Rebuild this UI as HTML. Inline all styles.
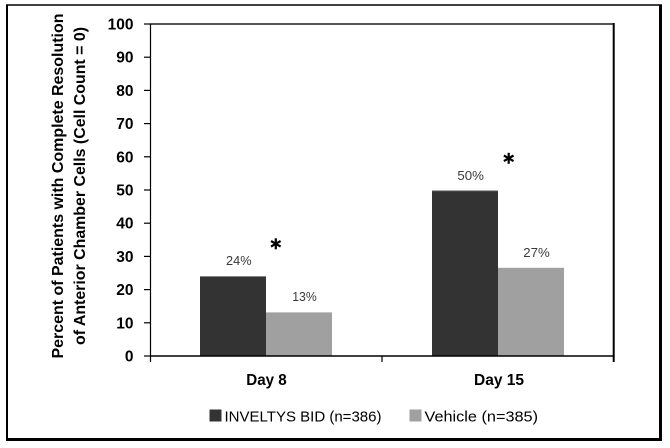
<!DOCTYPE html>
<html>
<head>
<meta charset="utf-8">
<style>
  html, body { margin: 0; padding: 0; background: #ffffff; }
  body { width: 670px; height: 448px; overflow: hidden; }
  svg { display: block; }
  text { font-family: "Liberation Sans", Arial, sans-serif; }
</style>
</head>
<body>
<svg width="670" height="448" viewBox="0 0 670 448" xmlns="http://www.w3.org/2000/svg">
  <rect x="0" y="0" width="670" height="448" fill="#ffffff"/>

  <!-- outer border -->
  <line x1="6" y1="5" x2="662" y2="5" stroke="#000" stroke-width="1.6"/>
  <line x1="7" y1="4.5" x2="7" y2="441" stroke="#000" stroke-width="2"/>
  <line x1="660.5" y1="4.5" x2="660.5" y2="441" stroke="#000" stroke-width="3"/>
  <line x1="6" y1="439.5" x2="662" y2="439.5" stroke="#000" stroke-width="3"/>

  <!-- y-axis title -->
  <text transform="translate(63,186) rotate(-90)" text-anchor="middle" font-size="16" font-weight="bold" fill="#000" textLength="345" lengthAdjust="spacingAndGlyphs">Percent of Patients with Complete Resolution</text>
  <text transform="translate(85,186) rotate(-90)" text-anchor="middle" font-size="16" font-weight="bold" fill="#000" textLength="318" lengthAdjust="spacingAndGlyphs">of Anterior Chamber Cells (Cell Count = 0)</text>

  <!-- y tick labels -->
  <g font-size="15.5" font-weight="bold" fill="#000" text-anchor="end">
    <text x="133.5" y="29.5">100</text>
    <text x="133.5" y="62.7">90</text>
    <text x="133.5" y="95.9">80</text>
    <text x="133.5" y="129.1">70</text>
    <text x="133.5" y="162.3">60</text>
    <text x="133.5" y="195.5">50</text>
    <text x="133.5" y="228.7">40</text>
    <text x="133.5" y="261.9">30</text>
    <text x="133.5" y="295.1">20</text>
    <text x="133.5" y="328.3">10</text>
    <text x="133.5" y="361.5">0</text>
  </g>

  <!-- y ticks -->
  <g stroke="#000" stroke-width="1.2">
    <line x1="144" y1="24" x2="150" y2="24"/>
    <line x1="144" y1="57.2" x2="150" y2="57.2"/>
    <line x1="144" y1="90.4" x2="150" y2="90.4"/>
    <line x1="144" y1="123.6" x2="150" y2="123.6"/>
    <line x1="144" y1="156.8" x2="150" y2="156.8"/>
    <line x1="144" y1="190" x2="150" y2="190"/>
    <line x1="144" y1="223.2" x2="150" y2="223.2"/>
    <line x1="144" y1="256.4" x2="150" y2="256.4"/>
    <line x1="144" y1="289.6" x2="150" y2="289.6"/>
    <line x1="144" y1="322.8" x2="150" y2="322.8"/>
    <line x1="144" y1="356" x2="150" y2="356"/>
  </g>

  <!-- bars -->
  <rect x="200" y="276.3" width="66" height="79.7" fill="#333333"/>
  <rect x="266" y="312.4" width="66" height="43.6" fill="#a0a0a0"/>
  <rect x="432" y="190.5" width="66" height="165.5" fill="#333333"/>
  <rect x="498" y="267.8" width="66" height="88.2" fill="#a0a0a0"/>
  <!-- subtle top edges -->
  <line x1="200" y1="276.6" x2="266" y2="276.6" stroke="#777" stroke-width="0.8"/>
  <line x1="432" y1="190.8" x2="498" y2="190.8" stroke="#777" stroke-width="0.8"/>

  <!-- plot frame -->
  <line x1="150" y1="24" x2="614" y2="24" stroke="#555" stroke-width="2"/>
  <line x1="150.5" y1="24" x2="150.5" y2="362" stroke="#000" stroke-width="1.2"/>
  <line x1="613.7" y1="23" x2="613.7" y2="362" stroke="#000" stroke-width="2"/>
  <line x1="150" y1="356" x2="614" y2="356" stroke="#000" stroke-width="1.5"/>
  <line x1="382" y1="356" x2="382" y2="362" stroke="#000" stroke-width="1.2"/>

  <!-- data labels -->
  <g font-size="13" fill="#3a3a3a" text-anchor="middle">
    <text x="238.8" y="265" textLength="25.5" lengthAdjust="spacingAndGlyphs">24%</text>
    <text x="304.5" y="301" textLength="24.5" lengthAdjust="spacingAndGlyphs">13%</text>
    <text x="470.7" y="180" textLength="26.5" lengthAdjust="spacingAndGlyphs">50%</text>
    <text x="536.5" y="257" textLength="26.5" lengthAdjust="spacingAndGlyphs">27%</text>
  </g>

  <!-- asterisks -->
  <g stroke="#000" stroke-width="2.2" stroke-linecap="butt">
    <line x1="275.8" y1="238.3" x2="275.8" y2="249.3"/>
    <line x1="271" y1="241" x2="280.6" y2="246.6"/>
    <line x1="271" y1="246.6" x2="280.6" y2="241"/>
    <line x1="508.7" y1="152.8" x2="508.7" y2="163.8"/>
    <line x1="503.9" y1="155.5" x2="513.5" y2="161.1"/>
    <line x1="503.9" y1="161.1" x2="513.5" y2="155.5"/>
  </g>

  <!-- category labels -->
  <g font-size="16" font-weight="bold" fill="#000" text-anchor="middle">
    <text x="266.5" y="385" textLength="40.5" lengthAdjust="spacingAndGlyphs">Day 8</text>
    <text x="499" y="385" textLength="50" lengthAdjust="spacingAndGlyphs">Day 15</text>
  </g>

  <!-- legend -->
  <rect x="209.5" y="409.5" width="12" height="12" fill="#333333"/>
  <text x="224.5" y="421.5" font-size="15" fill="#000" textLength="157" lengthAdjust="spacingAndGlyphs">INVELTYS BID (n=386)</text>
  <rect x="409.5" y="409.5" width="12" height="12" fill="#a0a0a0"/>
  <text x="424.5" y="421.5" font-size="15" fill="#000" textLength="113.5" lengthAdjust="spacingAndGlyphs">Vehicle (n=385)</text>
</svg>
</body>
</html>
